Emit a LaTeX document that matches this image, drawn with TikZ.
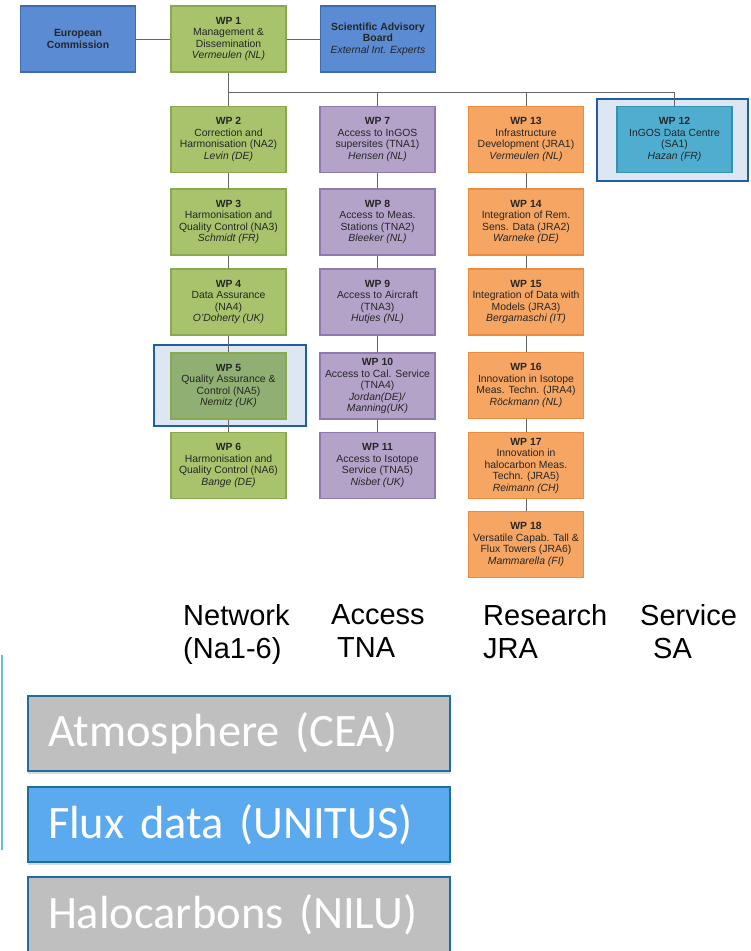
\documentclass[tikz,border=0pt]{standalone}
\usepackage{fontspec}
\setmainfont{Liberation Sans}
\newfontfamily\calibrifont{Carlito}
\usepackage{xcolor}
\usepackage{tikz}
\usetikzlibrary{positioning, shadows}

\definecolor{boardblue}{HTML}{5B8BD3}
\definecolor{boardline}{HTML}{3C6BB2}
\definecolor{nagreen}{HTML}{A8C36C}
\definecolor{nagreenline}{HTML}{8AA84C}
\definecolor{nafocus}{HTML}{90AF72}
\definecolor{tnapurple}{HTML}{B3A3C9}
\definecolor{tnaline}{HTML}{8F7AAF}
\definecolor{jraorange}{HTML}{F6A563}
\definecolor{jraline}{HTML}{EC8A3E}
\definecolor{sateal}{HTML}{4FADD0}
\definecolor{saline}{HTML}{3690B4}
\definecolor{focusfill}{HTML}{DCE7F3}
\definecolor{focusline}{HTML}{1F5FA0}
\definecolor{themegray}{HTML}{BFBFBF}
\definecolor{themeblue}{HTML}{5BA9EE}
\definecolor{themeline}{HTML}{1D6F9C}
\definecolor{linkgray}{HTML}{666666}
\definecolor{edgeteal}{HTML}{5FBFD4}

\tikzset{
  wpbox/.style={draw, line width=1.8pt, minimum width=115pt, minimum height=66pt,
    align=center, inner sep=1pt, text=black!85, font=\fontsize{10.4}{11.5}\selectfont},
  board/.style={wpbox, fill=boardblue, draw=boardline},
  na/.style={wpbox, fill=nagreen, draw=nagreenline},
  tna/.style={wpbox, fill=tnapurple, draw=tnaline},
  jra/.style={wpbox, fill=jraorange, draw=jraline},
  sa/.style={wpbox, fill=sateal, draw=saline},
  focus/.style={draw=focusline, fill=focusfill, line width=1.6pt, inner sep=0pt},
  link/.style={draw=linkgray, line width=1pt},
  kind/.style={anchor=north west, align=left, inner sep=0pt, font=\fontsize{29}{33}\selectfont},
  theme/.style={draw=themeline, line width=1.5pt, minimum width=422pt, minimum height=75pt,
    text width=382pt, align=left, inner xsep=20pt, text=white, font=\calibrifont\fontsize{46.5}{52}\selectfont,
    drop shadow={opacity=0.3, shadow xshift=0pt, shadow yshift=-3pt}}
}

\begin{document}
\begin{tikzpicture}[x=1pt, y=-1pt]
    \useasboundingbox (0,0) rectangle (751,951);

    % highlighted work packages
    \node[focus, minimum width=152pt, minimum height=81pt] (focusNA) at (230,385.5) {};
    \node[focus, minimum width=151pt, minimum height=82pt] (focusSA) at (672.5,140) {};

    % top row
    \node[board] (ec) at (78,39) {\textbf{European}\\\textbf{Commission}};
    \node[na] (wp1) at (228.5,39) {\textbf{WP 1}\\Management \&\\Dissemination\\\textit{Vermeulen (NL)}};
    \node[board] (sab) at (378,39) {\textbf{Scientific Advisory}\\\textbf{Board}\\\textit{External Int. Experts}};

    % networking
    \node[na] (wp2) at (228.5,139.5) {\textbf{WP 2}\\Correction and\\Harmonisation (NA2)\\\textit{Levin (DE)}};
    \node[na] (wp3) at (228.5,222) {\textbf{WP 3}\\Harmonisation and\\Quality Control (NA3)\\\textit{Schmidt (FR)}};
    \node[na] (wp4) at (228.5,302) {\textbf{WP 4}\\Data Assurance\\(NA4)\\\textit{O'Doherty (UK)}};
    \node[na, fill=nafocus] (wp5) at (228.5,386) {\textbf{WP 5}\\Quality Assurance \&\\Control (NA5)\\\textit{Nemitz (UK)}};
    \node[na] (wp6) at (228.5,465.5) {\textbf{WP 6}\\Harmonisation and\\Quality Control (NA6)\\\textit{Bange (DE)}};

    % access
    \node[tna] (wp7) at (377.5,139.5) {\textbf{WP 7}\\Access to InGOS\\supersites (TNA1)\\\textit{Hensen (NL)}};
    \node[tna] (wp8) at (377.5,222) {\textbf{WP 8}\\Access to Meas.\\Stations (TNA2)\\\textit{Bleeker (NL)}};
    \node[tna] (wp9) at (377.5,302) {\textbf{WP 9}\\Access to Aircraft\\(TNA3)\\\textit{Hutjes (NL)}};
    \node[tna] (wp10) at (377.5,386) {\textbf{WP 10}\\Access to Cal. Service\\(TNA4)\\\textit{Jordan(DE)/}\\\textit{Manning(UK)}};
    \node[tna] (wp11) at (377.5,465.5) {\textbf{WP 11}\\Access to Isotope\\Service (TNA5)\\\textit{Nisbet (UK)}};

    % research
    \node[jra] (wp13) at (526,139.5) {\textbf{WP 13}\\Infrastructure\\Development (JRA1)\\\textit{Vermeulen (NL)}};
    \node[jra] (wp14) at (526,222) {\textbf{WP 14}\\Integration of Rem.\\Sens. Data (JRA2)\\\textit{Warneke (DE)}};
    \node[jra] (wp15) at (526,302) {\textbf{WP 15}\\Integration of Data with\\Models (JRA3)\\\textit{Bergamaschi (IT)}};
    \node[jra] (wp16) at (526,385.5) {\textbf{WP 16}\\Innovation in Isotope\\Meas. Techn. (JRA4)\\\textit{Röckmann (NL)}};
    \node[jra] (wp17) at (526,465.5) {\textbf{WP 17}\\Innovation in\\halocarbon Meas.\\Techn. (JRA5)\\\textit{Reimann (CH)}};
    \node[jra] (wp18) at (526,544.5) {\textbf{WP 18}\\Versatile Capab. Tall \&\\Flux Towers (JRA6)\\\textit{Mammarella (FI)}};

    % service
    \node[sa] (wp12) at (674.5,139.5) {\textbf{WP 12}\\InGOS Data Centre\\(SA1)\\\textit{Hazan (FR)}};

    % links
    \coordinate (hub) at (228.5,92);
    \draw[link] (ec) -- (wp1);
    \draw[link] (wp1) -- (sab);
    \draw[link] (wp1) -- (wp2);
    \draw[link] (hub) -| (wp7);
    \draw[link] (hub) -| (wp13);
    \draw[link] (hub) -| (wp12);
    \draw[link] (wp2) -- (wp3);
    \draw[link] (wp3) -- (wp4);
    \draw[link] (wp4) -- (wp5);
    \draw[link] (wp5) -- (wp6);
    \draw[link] (wp7) -- (wp8);
    \draw[link] (wp8) -- (wp9);
    \draw[link] (wp9) -- (wp10);
    \draw[link] (wp10) -- (wp11);
    \draw[link] (wp13) -- (wp14);
    \draw[link] (wp14) -- (wp15);
    \draw[link] (wp15) -- (wp16);
    \draw[link] (wp16) -- (wp17);
    \draw[link] (wp17) -- (wp18);

    % activity kinds
    \node[kind] (network) at (183,604) {Network\\(Na1-6)};
    \node[kind] (access) at (331,604) {Access\\\hspace*{6pt}TNA};
    \node[kind] (research) at (483,604) {Research\\JRA};
    \node[kind] (service) at (640,604) {Service\\\hspace*{13pt}SA};

    % themes
    \draw[edgeteal, line width=2.5pt] (1.8,655) -- (1.8,850);
    \node[theme, fill=themegray] (atmos) at (239,733.5) {Atmosphere (CEA)};
    \node[theme, fill=themeblue] (flux) at (239,824.5) {Flux data (UNITUS)};
    \node[theme, fill=themegray] (halo) at (239,914.5) {Halocarbons (NILU)};
\end{tikzpicture}
\end{document}
